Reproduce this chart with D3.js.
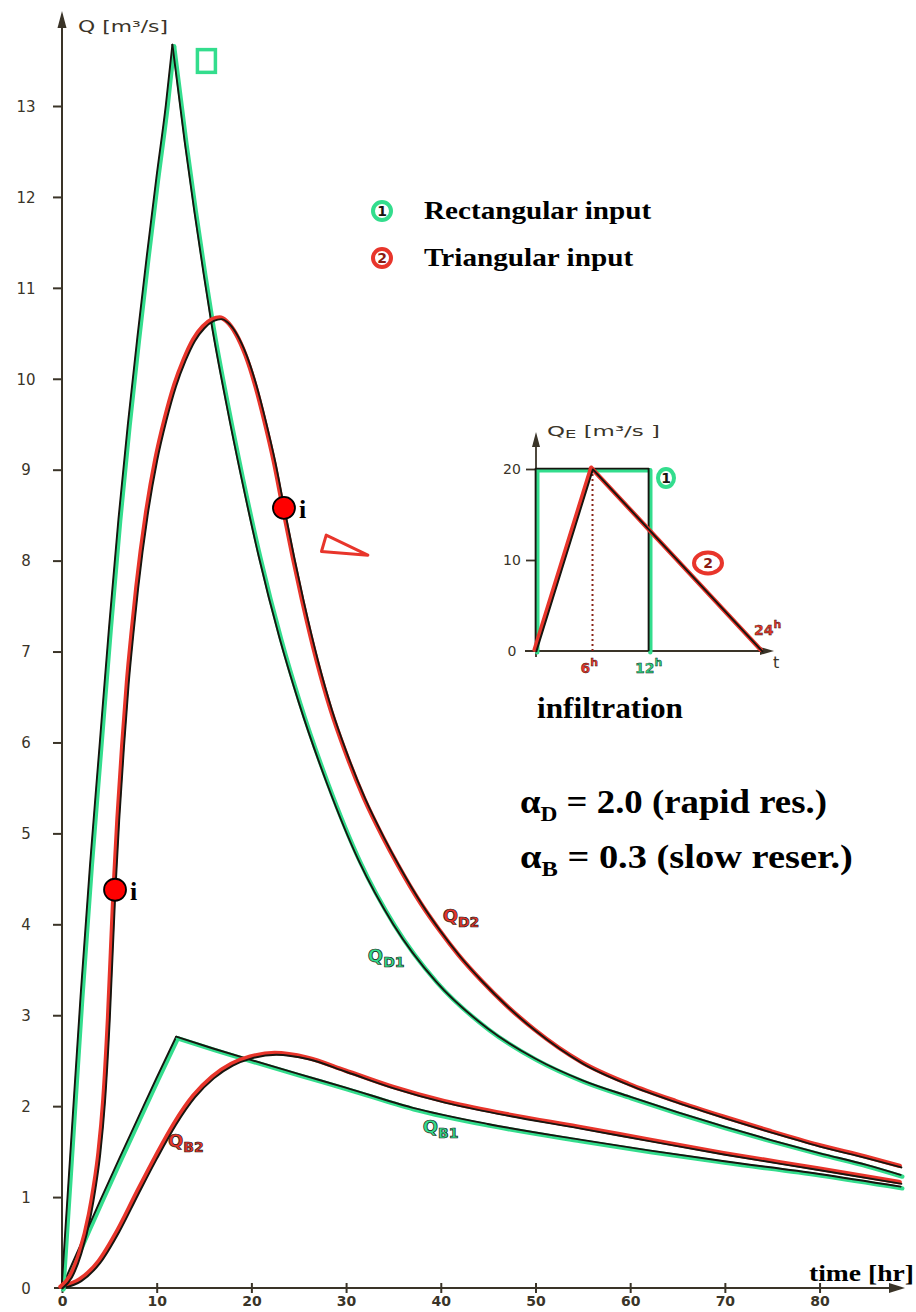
<!DOCTYPE html>
<html>
<head>
<meta charset="utf-8">
<script src="https://cdn.jsdelivr.net/npm/d3@7"></script>
<style>
  body { margin: 0; background: #fff; }
  svg { display: block; }
</style>
</head>
<body>
<svg id="chart" width="916" height="1312"></svg>
<script>
// ---- data: discharge Q [m3/s] against time [hr] ----
// direct runoff, rectangular input (rising and falling limb)
const qD1Rise = [[0,0],[1,1.6],[2,3.2],[3,4.65],[4,5.95],[5,7.25],[6,8.45],[7,9.5],[8,10.45],[9,11.35],[10,12.2],[11,13.0],[11.7,13.67]];
const qD1Fall = [[11.7,13.67],[13,12.6],[14,11.85],[15,11.15],[15.8,10.62],[17.4,9.72],[19,8.9],[20.8,8.05],[23,7.15],[25,6.45],[28,5.55],[31.4,4.69],[35,4.0],[39.5,3.37],[45,2.85],[50,2.52],[55,2.28],[60,2.1],[65,1.93],[70,1.77],[75,1.62],[80,1.48],[85,1.35],[88.6,1.24]];
// direct runoff, triangular input
const qD2 = [[0,0],[1,0.12],[2,0.38],[3,0.8],[3.5,1.1],[4,1.48],[4.5,2.05],[5,2.95],[5.6,4.38],[6,5.15],[6.5,5.95],[7,6.65],[7.5,7.2],[8,7.7],[9,8.5],[10,9.1],[11,9.55],[12,9.92],[13,10.2],[14,10.42],[15,10.56],[16,10.64],[16.8,10.66],[17.5,10.62],[18.5,10.48],[19.5,10.25],[20.5,9.93],[21.5,9.53],[22.5,9.08],[23.44,8.58],[24.5,8.03],[25.5,7.55],[27,6.9],[28.5,6.35],[30,5.9],[32,5.38],[34,4.95],[35.6,4.64],[38,4.22],[40,3.92],[42,3.65],[44.4,3.37],[47,3.1],[50,2.83],[55,2.47],[60,2.23],[65,2.04],[70,1.87],[75,1.71],[80,1.56],[85,1.43],[88.6,1.33]];
// base flow, rectangular input
const qB1Rise = [[0,0],[2,0.47],[4,0.94],[6,1.4],[8,1.85],[10,2.3],[12.1,2.76]];
const qB1Fall = [[12.1,2.76],[16,2.63],[19.8,2.51],[25,2.35],[30,2.2],[37,1.98],[45,1.8],[54.6,1.63],[62,1.51],[70,1.39],[80,1.25],[88.6,1.11]];
// base flow, triangular input
const qB2 = [[0,0],[2,0.08],[4,0.28],[6,0.62],[8,1.03],[10,1.43],[12,1.8],[14,2.1],[16,2.31],[18,2.45],[20,2.53],[22.6,2.57],[26,2.52],[30,2.38],[35,2.2],[40.5,2.04],[47,1.9],[54.6,1.76],[62,1.62],[70,1.47],[80,1.3],[88.6,1.15]];
// inflection points of the triangular direct-runoff curve
const inflections = [[5.6,4.38],[23.44,8.58]];

const yTicks = [0,1,2,3,4,5,6,7,8,9,10,11,12,13];
const yTickLabels = ["0","1","2","3","4","5","6","7","8","9","10","11","12","13"];
const xTicks = [0,10,20,30,40,50,60,70,80];
const xTickLabels = ["0","10","20","30","40","50","60","70","80"];

// curve labels: [time, Q] of the label anchor
const curveLabels = [
  {name:"Q", sub:"D2", at:[40.2,4.02], kind:"red"},
  {name:"Q", sub:"D1", at:[32.3,3.58], kind:"green"},
  {name:"Q", sub:"B1", at:[38.1,1.71], kind:"green"},
  {name:"Q", sub:"B2", at:[11.2,1.55], kind:"red"}
];
// small shape symbols beside the curves
const squareSymbol = [[14.3,13.62],[16.2,13.37]];
const triangleSymbol = [[27.9,8.28],[27.4,8.10],[32.3,8.06]];

// infiltration input hydrographs (inset): QE [m3/s] against t [h]
const inputRect = [[0,0],[0,20],[12,20],[12,0]];
const inputTri = [[0,0],[6,20],[24,0]];
const insetYTicks = [0,10,20];
const insetYTickLabels = ["0","10","20"];

// ---- styling ----
const GREEN = "#33dd8d";
const RED = "#e8352b";
const DARK = "#17150f";
const AXIS = "#3a3428";
const HAND = "'DejaVu Sans', sans-serif";
const SERIF = "'Liberation Serif', 'Times New Roman', serif";

const svg = d3.select("#chart");

// stretch a text element horizontally so it spans a given width
function fitWidth(sel, width) {
  const node = sel.node();
  const bb = node.getBBox();
  const s = width / bb.width;
  sel.attr("transform", `translate(${bb.x},0) scale(${s},1) translate(${-bb.x},0)`);
}

// ---- main chart scales ----
const x = d3.scaleLinear().domain([0, 88.6]).range([62, 901]);
const y = d3.scaleLinear().domain([0, 13]).range([1288, 106]);

// y axis
const gY = svg.append("g").attr("transform", `translate(${x(0)},0)`)
  .call(d3.axisLeft(y).tickValues(yTicks).tickFormat((d, i) => yTickLabels[i]));
gY.select(".domain").remove();
gY.selectAll(".tick line").attr("x1", 1).attr("x2", -9).attr("stroke", AXIS).attr("stroke-width", 2);
gY.selectAll(".tick text").attr("x", -36).attr("dy", "0.35em").attr("text-anchor", "middle")
  .style("font-family", HAND).style("font-size", "15px").attr("fill", AXIS);
gY.selectAll(".tick").filter(d => d === 0).select("line").remove();

svg.append("line").attr("x1", x(0)).attr("x2", x(0)).attr("y1", y(0) + 3).attr("y2", 24)
  .attr("stroke", AXIS).attr("stroke-width", 2);
svg.append("path").attr("d", `M${x(0)},11 L${x(0) - 4.5},28 L${x(0) + 4.5},28 Z`).attr("fill", AXIS);
const qLabel = svg.append("text").attr("x", 78).attr("y", 32)
  .style("font-family", HAND).style("font-size", "16px").attr("fill", AXIS)
  .text("Q [m³/s]");
fitWidth(qLabel, 90);

// x axis
const gX = svg.append("g").attr("transform", `translate(0,${y(0)})`)
  .call(d3.axisBottom(x).tickValues(xTicks).tickFormat((d, i) => xTickLabels[i]));
gX.select(".domain").remove();
gX.selectAll(".tick line").attr("y1", -5).attr("y2", 5).attr("stroke", AXIS).attr("stroke-width", 2);
gX.selectAll(".tick text").attr("y", 8).attr("dy", "0.71em")
  .style("font-family", HAND).style("font-size", "14px").style("font-weight", "bold").attr("fill", AXIS);
svg.append("line").attr("x1", x(0) - 8).attr("x2", 892).attr("y1", y(0)).attr("y2", y(0))
  .attr("stroke", AXIS).attr("stroke-width", 2);
svg.append("path").attr("d", `M905,${y(0)} L889,${y(0) - 5} L889,${y(0) + 5} Z`).attr("fill", AXIS);

const timeLabel = svg.append("text").attr("x", 809).attr("y", 1281)
  .style("font-family", SERIF).style("font-weight", "bold").style("font-size", "24px").attr("fill", "#000")
  .text("time [hr]");
fitWidth(timeLabel, 105);

// ---- curves: coloured band with a dark pen line ----
const lineGen = d3.line().x(d => x(d[0])).y(d => y(d[1])).curve(d3.curveMonotoneX);
function drawCurve(data, color, shift, gen) {
  const g = gen || lineGen;
  svg.append("path").attr("d", g(data)).attr("fill", "none").attr("stroke", color)
    .attr("stroke-width", 4.4).attr("stroke-linejoin", "round").attr("stroke-linecap", "round")
    .attr("transform", `translate(${shift},${shift})`);
  svg.append("path").attr("d", g(data)).attr("fill", "none").attr("stroke", DARK)
    .attr("stroke-width", 1.9).attr("stroke-linejoin", "round").attr("stroke-linecap", "round")
    .attr("transform", `translate(${-shift * 0.3},${-shift * 0.3})`);
}
drawCurve(qB1Rise, GREEN, 1.3);
drawCurve(qB1Fall, GREEN, 1.3);
drawCurve(qB2, RED, -1.3);
drawCurve(qD1Rise, GREEN, 1.3);
drawCurve(qD1Fall, GREEN, 1.3);
drawCurve(qD2, RED, -1.3);

// curve labels
curveLabels.forEach(l => {
  const t = svg.append("text").attr("x", x(l.at[0])).attr("y", y(l.at[1]))
    .style("font-family", HAND).style("font-weight", "bold").style("font-size", "18px")
    .attr("fill", l.kind === "red" ? RED : GREEN).attr("stroke", DARK).attr("stroke-width", 0.7);
  t.append("tspan").text(l.name);
  t.append("tspan").attr("dy", 5).style("font-size", "14px").text(l.sub);
});

// square and triangle symbols
svg.append("rect")
  .attr("x", x(squareSymbol[0][0])).attr("y", y(squareSymbol[0][1]))
  .attr("width", x(squareSymbol[1][0]) - x(squareSymbol[0][0]))
  .attr("height", y(squareSymbol[1][1]) - y(squareSymbol[0][1]))
  .attr("fill", "none").attr("stroke", GREEN).attr("stroke-width", 3.5);
svg.append("path")
  .attr("d", d3.line().x(d => x(d[0])).y(d => y(d[1]))(triangleSymbol) + "Z")
  .attr("fill", "none").attr("stroke", RED).attr("stroke-width", 3).attr("stroke-linejoin", "round");

// inflection points
inflections.forEach(p => {
  svg.append("circle").attr("cx", x(p[0])).attr("cy", y(p[1])).attr("r", 11)
    .attr("fill", "#ff0000").attr("stroke", "#000").attr("stroke-width", 1.8);
  svg.append("text").attr("x", x(p[0]) + 15).attr("y", y(p[1]) + 10)
    .style("font-family", SERIF).style("font-weight", "bold").style("font-size", "26px")
    .attr("fill", "#000").text("i");
});

// ---- legend ----
function circledNumber(cx, cy, num, color, rx, ry) {
  svg.append("ellipse").attr("cx", cx).attr("cy", cy).attr("rx", rx).attr("ry", ry)
    .attr("fill", "#fff").attr("stroke", color).attr("stroke-width", 4);
  svg.append("text").attr("x", cx).attr("y", cy + 5).attr("text-anchor", "middle")
    .style("font-family", HAND).style("font-weight", "bold").style("font-size", "14px")
    .attr("fill", color === RED ? "#8a1a12" : DARK).text(num);
}
circledNumber(382, 211, "1", GREEN, 9, 9);
circledNumber(382, 258, "2", RED, 9, 9);
const leg1 = svg.append("text").attr("x", 424).attr("y", 219)
  .style("font-family", SERIF).style("font-weight", "bold").style("font-size", "25px").text("Rectangular input");
fitWidth(leg1, 228);
const leg2 = svg.append("text").attr("x", 424).attr("y", 266)
  .style("font-family", SERIF).style("font-weight", "bold").style("font-size", "25px").text("Triangular input");
fitWidth(leg2, 210);

// ---- reservoir constants ----
function alphaLine(yBase, sub, rest, width) {
  const t = svg.append("text").attr("x", 520).attr("y", yBase)
    .style("font-family", SERIF).style("font-weight", "bold").style("font-size", "33px").attr("fill", "#000");
  t.append("tspan").text("α");
  t.append("tspan").attr("dy", 8).style("font-size", "21px").text(sub);
  t.append("tspan").attr("dy", -8).text(rest);
  fitWidth(t, width);
}
alphaLine(813, "D", " = 2.0 (rapid res.)", 307);
alphaLine(868, "B", " = 0.3 (slow reser.)", 333);

// ---- inset: infiltration input ----
const xi = d3.scaleLinear().domain([0, 24]).range([536, 762]);
const yi = d3.scaleLinear().domain([0, 20]).range([651, 469]);

svg.append("line").attr("x1", xi(0)).attr("x2", xi(0)).attr("y1", yi(0) + 6).attr("y2", 445)
  .attr("stroke", AXIS).attr("stroke-width", 1.8);
svg.append("path").attr("d", `M${xi(0)},432 L${xi(0) - 4},447 L${xi(0) + 4},447 Z`).attr("fill", AXIS);
svg.append("line").attr("x1", 525).attr("x2", 762).attr("y1", yi(0)).attr("y2", yi(0))
  .attr("stroke", AXIS).attr("stroke-width", 1.8);
svg.append("path").attr("d", `M774,${yi(0)} L760,${yi(0) - 4} L760,${yi(0) + 4} Z`).attr("fill", AXIS);

const gYi = svg.append("g").attr("transform", `translate(${xi(0)},0)`)
  .call(d3.axisLeft(yi).tickValues(insetYTicks).tickFormat((d, i) => insetYTickLabels[i]));
gYi.select(".domain").remove();
gYi.selectAll(".tick line").attr("x2", -10).attr("stroke", AXIS).attr("stroke-width", 1.8);
gYi.selectAll(".tick").filter(d => d === 0).select("line").remove();
gYi.selectAll(".tick text").attr("x", -24).attr("text-anchor", "middle")
  .style("font-family", HAND).style("font-size", "14px").attr("fill", AXIS);

// dotted guide at the triangle peak
svg.append("line").attr("x1", xi(6)).attr("x2", xi(6)).attr("y1", yi(0)).attr("y2", yi(20))
  .attr("stroke", "#8a2418").attr("stroke-width", 2).attr("stroke-dasharray", "2,3");

const insetLine = d3.line().x(d => xi(d[0])).y(d => yi(d[1]));
drawCurve(inputRect, GREEN, 1.3, insetLine);
drawCurve(inputTri, RED, -1.3, insetLine);

// inset labels
const qeLabel = svg.append("text").attr("x", 547).attr("y", 436)
  .style("font-family", HAND).style("font-size", "14px").attr("fill", AXIS);
qeLabel.append("tspan").text("Q");
qeLabel.append("tspan").attr("dy", 2).style("font-size", "11px").text("E");
qeLabel.append("tspan").attr("dy", -2).text(" [m³/s ]");
fitWidth(qeLabel, 113);

svg.append("text").attr("x", 773).attr("y", 668)
  .style("font-family", HAND).style("font-size", "16px").attr("fill", AXIS).text("t");

function hourLabel(xp, yp, num, color) {
  const t = svg.append("text").attr("x", xp).attr("y", yp)
    .style("font-family", HAND).style("font-weight", "bold").style("font-size", "14px")
    .attr("fill", color).attr("stroke", DARK).attr("stroke-width", 0.4);
  t.append("tspan").text(num);
  t.append("tspan").attr("dy", -7).style("font-size", "11px").text("h");
}
hourLabel(xi(6) - 12, 673, "6", RED);
hourLabel(xi(12) - 14, 673, "12", "#2fcf82");
hourLabel(754, 635, "24", RED);

circledNumber(666, 478, "1", GREEN, 8, 9);
circledNumber(708, 563, "2", RED, 14, 10.5);

const infl = svg.append("text").attr("x", 537).attr("y", 718)
  .style("font-family", SERIF).style("font-weight", "bold").style("font-size", "29px").text("infiltration");
fitWidth(infl, 146);
</script>
</body>
</html>
